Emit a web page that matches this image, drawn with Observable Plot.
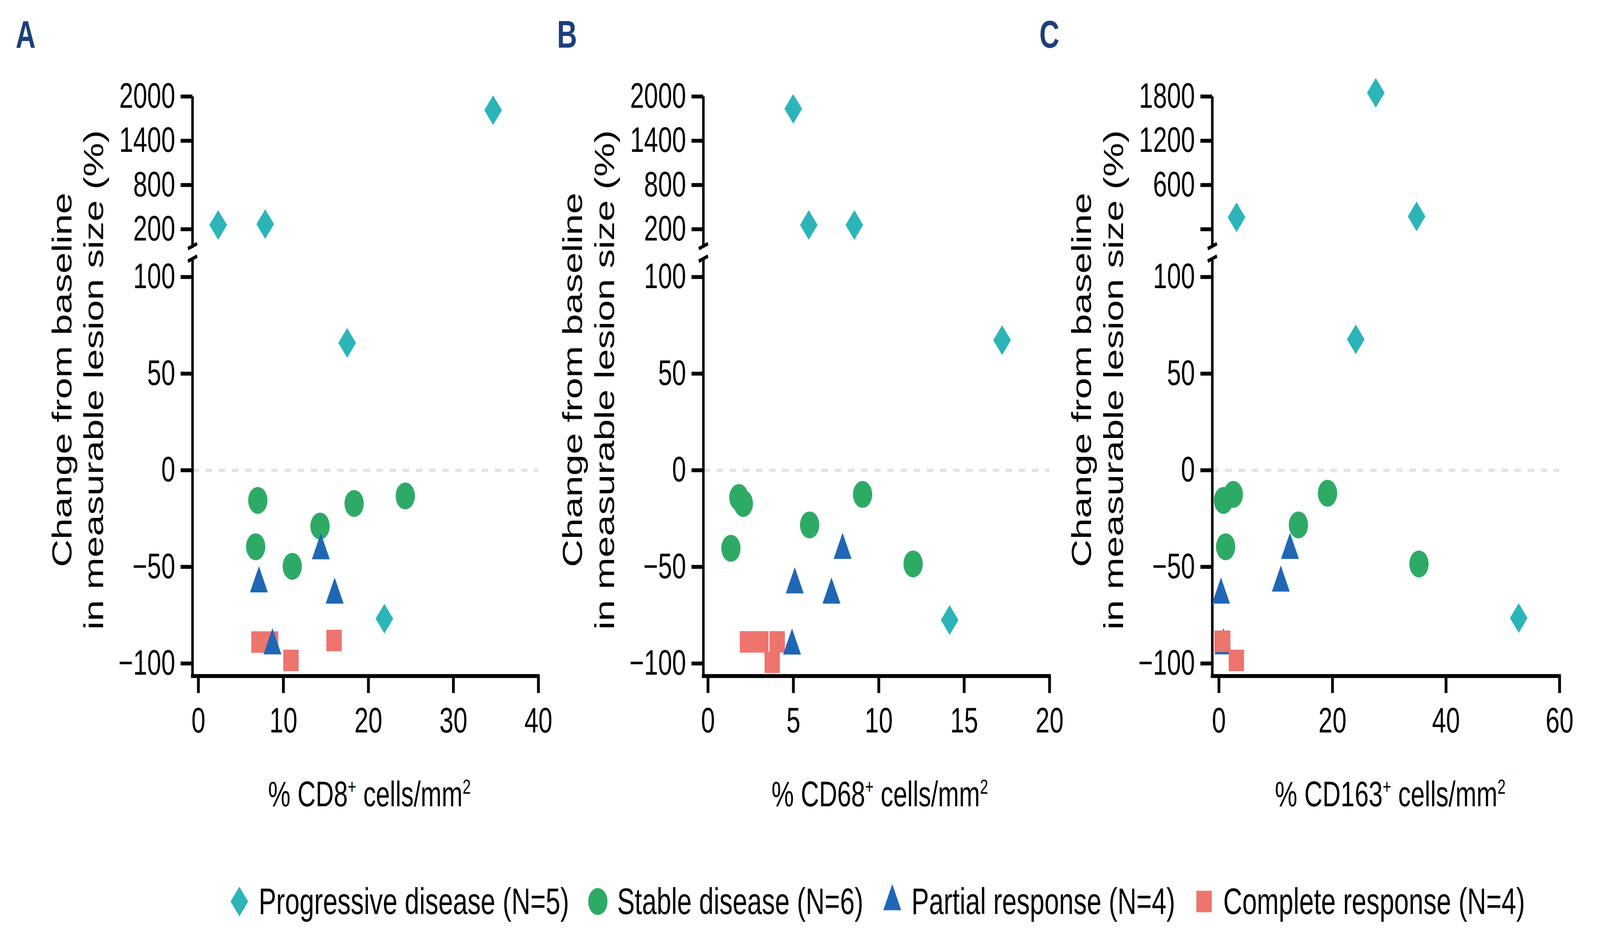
<!DOCTYPE html>
<html>
<head>
<meta charset="utf-8">
<script src="https://cdn.jsdelivr.net/npm/d3@7"></script>
<script src="https://cdn.jsdelivr.net/npm/@observablehq/plot@0.6"></script>
<style>
html, body { margin: 0; padding: 0; background: #fff; overflow: hidden; }
#wrap { position: relative; overflow: hidden; background: #fff; }
#page { position: absolute; left: 0; top: 0; width: 5722px; height: 2405px; overflow: hidden; background: #fff;
        font-family: "Liberation Sans", Arial, sans-serif; color: #000; transform-origin: 0 0; }
.abs { position: absolute; }
.letter { font-weight: bold; font-size: 99px; line-height: 99px; color: #1b3f7a; }
.ylab { font-size: 98px; line-height: 114px; text-align: center; white-space: nowrap;
        width: 1500px; height: 228px; transform: rotate(-90deg); }
.xlab { font-size: 90px; line-height: 90px; text-align: center; white-space: nowrap; width: 1200px; }
.xlab sup { font-size: 58%; vertical-align: baseline; position: relative; top: -0.62em; line-height: 0; }
.legend { display: flex; align-items: center; font-size: 94px; line-height: 108px; white-space: nowrap; }
.legend span { margin-left: 29px; margin-right: 63px; }
</style>
</head>
<body>
<div id="wrap"><div id="page"></div></div>
<script>
// ---------------- DATA ----------------
const groupCodes = ["PD", "SD", "PR", "CR"];
const groupNames = ["Progressive disease", "Stable disease", "Partial response", "Complete response"];
const groupCounts = [5, 6, 4, 4];
const groupColors = ["#2bb5b9", "#2eaa67", "#1f67b5", "#ee746e"];

// patient response group, same order in every panel
const patientGroup = ["PD","PD","PD","PD","PD",
                      "SD","SD","SD","SD","SD","SD",
                      "PR","PR","PR","PR",
                      "CR","CR","CR","CR"];

// Panel A: % CD8+ cells/mm2
const cd8Pct    = [2.33, 7.86, 34.67, 17.5, 21.88,
                   6.99, 18.32, 24.34, 14.31, 6.74, 11.04,
                   14.4, 7.12, 16.03, 8.71,
                   7.13, 8.49, 15.96, 10.89];
const cd8Change = [258, 270, 1814, 65.9, -76.8,
                   -15.6, -17.2, -13.3, -28.9, -39.6, -49.7,
                   -41.6, -58.7, -64.5, -90.8,
                   -88.9, -88.9, -88.1, -98.4];

// Panel B: % CD68+ cells/mm2
const cd68Pct    = [4.99, 5.90, 8.57, 17.22, 14.15,
                    1.81, 2.07, 9.05, 5.95, 1.34, 12.01,
                    7.88, 5.08, 7.23, 4.92,
                    2.31, 3.09, 4.05, 3.76];
const cd68Change = [1833, 258, 258, 67.3, -77.5,
                    -14.1, -17.2, -12.5, -28.3, -40.4, -48.5,
                    -41.4, -59.2, -64.5, -90.9,
                    -88.8, -88.8, -88.8, -99.4];

// Panel C: % CD163+ cells/mm2
const cd163Pct    = [27.63, 3.10, 34.81, 24.1, 52.8,
                     0.80, 2.53, 19.12, 14.0, 1.18, 35.23,
                     12.51, 10.9, 0.36, 0.8,
                     0.55, 0.6, 0.67, 3.07];
const cd163Change = [1850, 163, 175, 67.7, -76.5,
                     -15.6, -12.5, -11.9, -28.3, -39.6, -48.5,
                     -41.4, -58.3, -64.5, -90.8,
                     -88.5, -88.5, -88.5, -98.4];

// tick values
const cd8Ticks = [0, 10, 20, 30, 40];
const cd68Ticks = [0, 5, 10, 15, 20];
const cd163Ticks = [0, 20, 40, 60];
const lowerTicks = [-100, -50, 0, 50, 100];
const upperTicksAB = [200, 800, 1400, 2000];
const upperTicksC = [0, 600, 1200, 1800];
const lowerDomain = [-106.5, 109.5];

// ---------------- SYMBOLS ----------------
const symbols = {
  PD: { draw(c) { c.moveTo(0, -38); c.lineTo(31.5, 0); c.lineTo(0, 38); c.lineTo(-31.5, 0); c.closePath(); } },
  SD: { draw(c) { c.moveTo(34.5, 0); c.arc(0, 0, 34.5, 0, 2 * Math.PI); c.closePath(); } },
  PR: { draw(c) { c.moveTo(0, -44.7); c.lineTo(32, 22.3); c.lineTo(-32, 22.3); c.closePath(); } },
  CR: { draw(c) { c.moveTo(-27.5, -27.5); c.lineTo(27.5, -27.5); c.lineTo(27.5, 27.5); c.lineTo(-27.5, 27.5); c.closePath(); } }
};
const slash = { draw(c) { c.moveTo(-16.5, 6.5); c.lineTo(16.5, -6.5); } };

// ---------------- LAYOUT ----------------
const panels = [
  { letter: "A", letterX: 56, marker: "CD8", pct: cd8Pct, change: cd8Change, xTicks: cd8Ticks,
    upperTicks: upperTicksAB, upperDomain: [-29.2, 2000], axisX: 688, x0: 709, xEnd: 1925,
    order: ["PD", "SD", "CR", "PR"] },
  { letter: "B", letterX: 1992, marker: "CD68", pct: cd68Pct, change: cd68Change, xTicks: cd68Ticks,
    upperTicks: upperTicksAB, upperDomain: [-29.2, 2000], axisX: 2515, x0: 2531.5, xEnd: 3753,
    order: ["PD", "SD", "CR", "PR"] },
  { letter: "C", letterX: 3717, marker: "CD163", pct: cd163Pct, change: cd163Change, xTicks: cd163Ticks,
    upperTicks: upperTicksC, upperDomain: [-229.2, 1800], axisX: 4335, x0: 4358.7, xEnd: 5577,
    order: ["PD", "SD", "PR", "CR"] }
];

const fmt = d => d < 0 ? "\u2212" + Math.abs(d) : String(d);

function makePlot(p, upper) {
  const marginLeft = 320, marginRight = 70;
  const width = p.xEnd - p.axisX + marginLeft + marginRight;
  const inset = p.x0 - p.axisX;
  const height = upper ? 490 : 1280;
  const marginTop = upper ? 96.7 : 22;
  const marginBottom = upper ? 10 : 189;
  const rows = p.pct.map((x, i) => ({ x, y: p.change[i], g: patientGroup[i] }));
  const inPart = d => upper ? d.y > lowerDomain[1] : d.y <= lowerDomain[1];
  const marks = [];
  if (!upper) marks.push(Plot.ruleY([0], { stroke: "#e3e3e3", strokeWidth: 8, strokeDasharray: "24,23" }));
  marks.push(Plot.ruleX([p.xTicks[0]], { dx: -inset, stroke: "#000", strokeWidth: 9 }));
  if (!upper) marks.push(Plot.ruleY([lowerDomain[0]], { stroke: "#000", strokeWidth: 10, strokeLinecap: "square" }));
  marks.push(Plot.axisY({
    ticks: upper ? p.upperTicks : lowerTicks,
    tickSize: 42, tickPadding: 20, strokeWidth: 10, label: null, fontSize: 90,
    tickFormat: upper ? (d => (p.letter === "C" && d === 0) ? "" : String(d)) : fmt
  }));
  if (!upper) marks.push(Plot.axisX({
    ticks: p.xTicks, tickSize: 44, tickPadding: 37, strokeWidth: 10, label: null, fontSize: 90,
    tickFormat: d => String(d)
  }));
  marks.push(Plot.dot([0], { frameAnchor: upper ? "bottom-left" : "top-left", symbol: slash,
    fill: "none", stroke: "#000", strokeWidth: 9, r: 10 }));
  for (const code of p.order) {
    const gi = groupCodes.indexOf(code);
    marks.push(Plot.dot(rows.filter(d => d.g === code && inPart(d)), {
      x: "x", y: "y", symbol: symbols[code], fill: groupColors[gi], stroke: "none", r: 30
    }));
  }
  return Plot.plot({
    width, height, marginLeft, marginRight, marginTop, marginBottom,
    x: { domain: [p.xTicks[0], p.xTicks[p.xTicks.length - 1]], insetLeft: inset, axis: null },
    y: { domain: upper ? p.upperDomain : lowerDomain, axis: null },
    style: { fontFamily: "'Liberation Sans', Arial, sans-serif", fontSize: "90px", color: "#000",
             background: "transparent", overflow: "visible" },
    marks
  });
}

// The browser viewport may be narrower than 5722 px: map the 5722x2405 layout onto it.
const wrap = document.getElementById("wrap");
const page = document.getElementById("page");
function fitPage() {
  const sx = Math.min(1, window.innerWidth / 5722);
  const sy = Math.min(1, window.innerHeight / 2405);
  page.style.transform = `scale(${sx}, ${sy})`;
  wrap.style.width = (5722 * sx) + "px";
  wrap.style.height = (2405 * sy) + "px";
}
fitPage();
window.addEventListener("resize", fitPage);

function addDiv(cls, left, top, html) {
  const d = document.createElement("div");
  d.className = "abs " + cls;
  d.style.left = left + "px";
  d.style.top = top + "px";
  if (html !== undefined) d.innerHTML = html;
  page.appendChild(d);
  return d;
}

for (const p of panels) {
  const up = addDiv("", p.axisX - 320, 150);
  up.appendChild(makePlot(p, true));
  const lo = addDiv("", p.axisX - 320, 640);
  lo.appendChild(makePlot(p, false));
  addDiv("letter", p.letterX, 38, p.letter);
  const cx = p.axisX - 410, cy = 973;
  addDiv("ylab", cx - 750, cy - 114, "Change from baseline<br>in measurable lesion size (%)");
  const xc = (p.x0 + p.xEnd) / 2 + 4;
  addDiv("xlab", xc - 600, 1989, "% " + p.marker + "<sup>+</sup> cells/mm<sup>2</sup>");
}

// legend
const legend = addDiv("legend", 816, 2255);
groupCodes.forEach((code, i) => {
  const path = d3.path();
  symbols[code].draw(path, 0);
  const item = document.createElement("div");
  item.style.display = "flex";
  item.style.alignItems = "center";
  item.innerHTML = `<svg width="80" height="96" viewBox="-40 -48 80 96"><path d="${path.toString()}" fill="${groupColors[i]}"/></svg>` +
    `<span>${groupNames[i]} (N=${groupCounts[i]})</span>`;
  legend.appendChild(item);
});
</script>
</body>
</html>
